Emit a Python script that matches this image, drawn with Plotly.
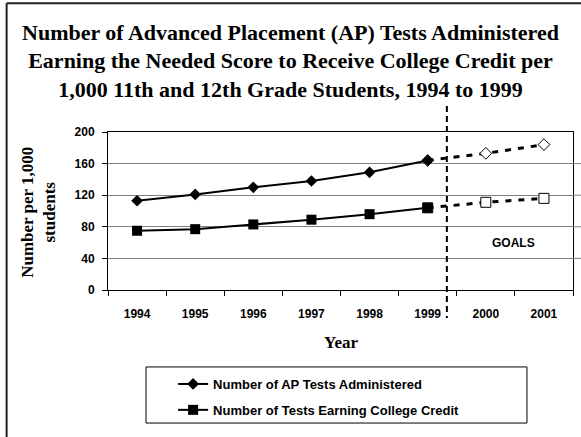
import plotly.graph_objects as go

years = ["1994", "1995", "1996", "1997", "1998", "1999", "2000", "2001"]
ap_tests = [113, 121, 130, 138, 149, 164, 173, 184]
college_credit = [75, 77, 83, 89, 96, 104, 111, 116]
gridlines = [40, 80, 120, 160]
last_actual = 5  # 1999 is the last measured year, 2000-2001 are goals

ap_name = "Number of AP Tests Administered"
credit_name = "Number of Tests Earning College Credit"

serif = "Liberation Serif, Times New Roman, serif"
sans = "Liberation Sans, Arial, sans-serif"

fig = go.Figure()

# goal segments (dashed, open markers) drawn first so the 1999 marker sits on top
for values, symbol, size in [(ap_tests, "diamond", 9), (college_credit, "square", 10)]:
    fig.add_trace(
        go.Scatter(
            x=years[last_actual:],
            y=values[last_actual:],
            mode="lines+markers",
            line=dict(color="black", width=3, dash="6px,7px"),
            marker=dict(symbol=symbol, size=size, color="white",
                        line=dict(color="black", width=1)),
            showlegend=False,
            hoverinfo="skip",
        )
    )

fig.add_trace(
    go.Scatter(
        x=years[: last_actual + 1],
        y=ap_tests[: last_actual + 1],
        mode="lines+markers",
        name=ap_name,
        legendgroup="ap",
        line=dict(color="black", width=2),
        marker=dict(symbol="diamond", size=9, color="black"),
    )
)
fig.add_trace(
    go.Scatter(
        x=years[: last_actual + 1],
        y=college_credit[: last_actual + 1],
        mode="lines+markers",
        name=credit_name,
        legendgroup="credit",
        line=dict(color="black", width=2),
        marker=dict(symbol="square", size=10, color="black"),
    )
)

# the gridlines run on past the right border of the plot box
for g in gridlines:
    fig.add_shape(type="line", xref="paper", yref="y", x0=1, x1=1.03, y0=g, y1=g,
                  line=dict(color="#808080", width=1))

# divider between actual values and goals
fig.add_shape(type="line", xref="x", yref="paper", x0=5.33, x1=5.33,
              y0=1.165, y1=-0.177, line=dict(color="black", width=2, dash="6px,4px"))
# legend box
fig.add_shape(type="rect", xref="paper", yref="paper", x0=0.0817, x1=0.901,
              y0=-0.487, y1=-0.842, line=dict(color="black", width=1))
# outer frame: only its top and left edges are visible in the crop
frame = dict(color="#222222", width=2)
fig.add_shape(type="line", xref="paper", yref="paper", x0=-0.218, x1=1.02,
              y0=1.815, y1=1.815, line=frame)
fig.add_shape(type="line", xref="paper", yref="paper", x0=-0.218, x1=-0.218,
              y0=1.815, y1=-1.1, line=frame)

fig.add_annotation(x=6.47, y=60, xref="x", yref="y", text="<b>GOALS</b>",
                   showarrow=False, font=dict(family=sans, size=12, color="black"))
fig.add_annotation(x=-0.15, y=0.49, xref="paper", yref="paper",
                   xanchor="center", yanchor="middle",
                   text="<b>Number per 1,000<br>students</b>", textangle=-90,
                   showarrow=False, font=dict(family=serif, size=17, color="black"))
fig.add_annotation(x=0.5, y=-0.335, xref="paper", yref="paper",
                   xanchor="center", yanchor="middle", text="<b>Year</b>",
                   showarrow=False, font=dict(family=serif, size=17, color="black"))

fig.update_layout(
    width=581,
    height=437,
    margin=dict(l=108, r=8, t=132, b=147),
    paper_bgcolor="white",
    plot_bgcolor="white",
    title=dict(
        text="<b>Number of Advanced Placement (AP) Tests Administered<br>"
             "Earning the Needed Score to Receive College Credit per<br>"
             "1,000 11th and 12th Grade Students, 1994 to 1999</b>",
        x=0.5,
        xanchor="center",
        y=0.909,
        yanchor="top",
        font=dict(family=serif, size=22, color="black"),
    ),
    showlegend=True,
    legend=dict(
        x=0.14,
        y=-0.5,
        xanchor="left",
        yanchor="top",
        bgcolor="rgba(0,0,0,0)",
        traceorder="grouped",
        tracegroupgap=6,
        itemwidth=30,
        font=dict(family=sans, size=13, color="black", weight="bold"),
    ),
)

fig.update_xaxes(
    type="category",
    categoryorder="array",
    categoryarray=years,
    range=[-0.5, 7.5],
    showline=True,
    linecolor="black",
    linewidth=1,
    mirror=True,
    ticks="outside",
    tickson="boundaries",
    ticklen=5,
    tickcolor="black",
    ticklabelstandoff=13,
    showgrid=False,
    tickfont=dict(family=sans, size=12, color="black", weight="bold"),
)
fig.update_yaxes(
    range=[0, 200],
    dtick=40,
    showline=True,
    linecolor="black",
    linewidth=1,
    mirror=True,
    ticks="outside",
    ticklen=5,
    tickcolor="black",
    ticklabelstandoff=5,
    showgrid=True,
    gridcolor="#808080",
    gridwidth=1,
    zeroline=False,
    tickfont=dict(family=sans, size=12, color="black", weight="bold"),
)

fig.write_html(
    "out.html",
    config={"displayModeBar": False},
    post_script=(
        "document.body.style.margin = '0';"
        "document.documentElement.style.overflow = 'hidden';"
    ),
)
